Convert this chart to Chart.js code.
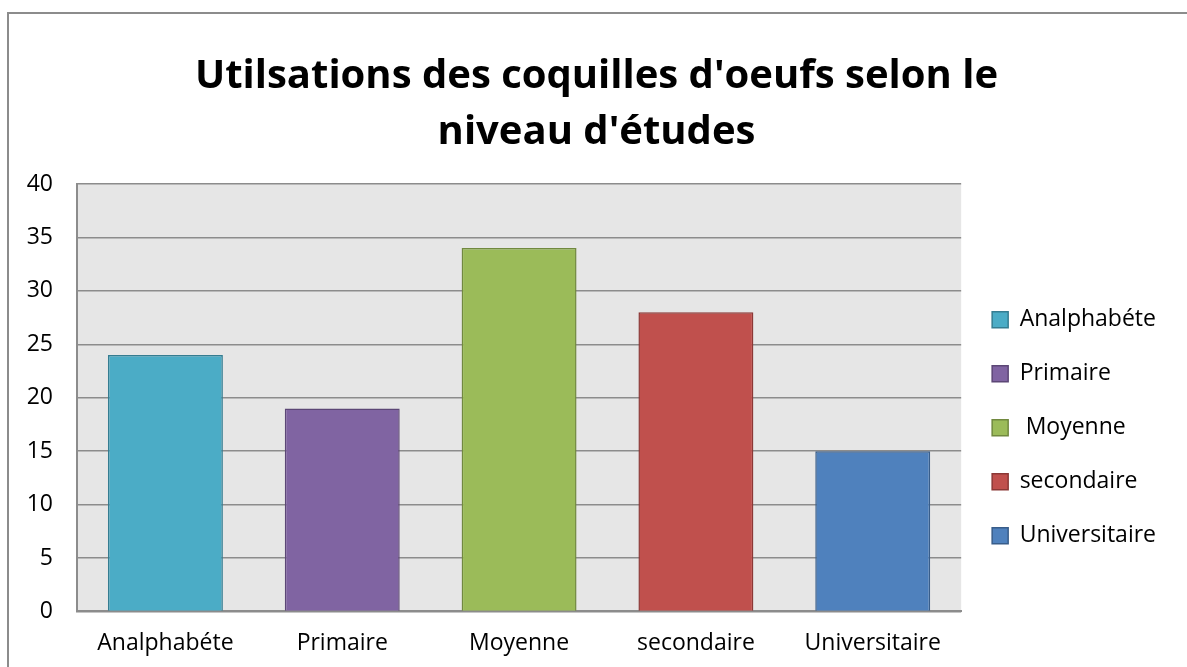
<!DOCTYPE html>
<html>
<head>
<meta charset="utf-8">
<script src="https://cdn.jsdelivr.net/npm/chart.js@4.4.1/dist/chart.umd.min.js"></script>
<style>
  html, body { margin: 0; padding: 0; background: #fff; }
  #wrap { position: relative; width: 1187px; height: 667px; }
</style>
</head>
<body>
<div id="wrap"><canvas id="eggChart"></canvas></div>
<script>
const categories = ['Analphabéte', 'Primaire', 'Moyenne', 'secondaire', 'Universitaire'];
const legendNames = ['Analphabéte', 'Primaire', ' Moyenne', 'secondaire', 'Universitaire'];
const values = [24, 19, 34, 28, 15];
const yTicks = [0, 5, 10, 15, 20, 25, 30, 35, 40];

const fills = ['#4BACC6', '#8064A2', '#9BBB59', '#C0504D', '#4F81BD'];
const edges = ['#357D91', '#5C4776', '#71893F', '#8C3836', '#385D8A'];

const FONT = '"Open Sans", "Noto Sans", sans-serif';

// grey plot background + the outer chart frame
const frame = {
    id: 'frame',
    beforeDraw(chart) {
        const c = chart.ctx;
        const a = chart.chartArea;
        c.save();
        c.fillStyle = '#E6E6E6';
        c.fillRect(a.left, a.top, a.right - a.left, a.bottom - a.top);
        c.strokeStyle = '#8C8C8C';
        c.lineWidth = 2;
        c.beginPath();
        c.moveTo(8, chart.height);
        c.lineTo(8, 13);
        c.lineTo(chart.width, 13);
        c.stroke();
        c.restore();
    }
};

const ctx = document.getElementById('eggChart');

if (ctx) {
    new Chart(ctx, {
        type: 'bar',
        data: {
            labels: categories,
            datasets: [{
                label: 'Utilisations',
                data: values,
                backgroundColor: fills,
                borderColor: edges,
                borderWidth: 1.5,
                barPercentage: 0.65,
                categoryPercentage: 1
            }]
        },
        options: {
            responsive: true,
            maintainAspectRatio: false,
            animation: false,
            layout: {
                padding: { top: 20, left: 27, right: 21, bottom: 0 }
            },
            scales: {
                x: {
                    grid: { display: false },
                    border: { display: true, color: '#8C8C8C', width: 2 },
                    ticks: { color: '#000', font: { family: FONT, size: 23 }, padding: 10 }
                },
                y: {
                    min: 0,
                    max: 40,
                    afterBuildTicks(axis) {
                        axis.ticks = yTicks.map(v => ({ value: v }));
                    },
                    afterFit(axis) {
                        axis.width = 50;
                    },
                    grid: { color: '#8C8C8C', lineWidth: 1.5, drawTicks: false },
                    border: { display: true, color: '#8C8C8C', width: 2 },
                    ticks: { color: '#000', font: { family: FONT, size: 23 }, padding: 24 }
                }
            },
            plugins: {
                title: {
                    display: true,
                    text: ["Utilsations des coquilles d'oeufs selon le", "niveau d'études"],
                    color: '#000',
                    font: { family: FONT, size: 40, weight: 'bold', lineHeight: 1.4 },
                    padding: { top: 29, bottom: 23 }
                },
                legend: {
                    position: 'right',
                    // empty title only pushes the items down to the Excel position
                    title: {
                        display: true,
                        text: ' ',
                        font: { size: 12 },
                        padding: { top: 154, bottom: 0 }
                    },
                    labels: {
                        color: '#000',
                        font: { family: FONT, size: 23 },
                        boxWidth: 16,
                        boxHeight: 16,
                        padding: 31,
                        generateLabels() {
                            return legendNames.map((name, i) => ({
                                text: name,
                                fillStyle: fills[i],
                                strokeStyle: edges[i],
                                fontColor: '#000',
                                lineWidth: 1.5,
                                index: i
                            }));
                        }
                    }
                },
                tooltip: { enabled: false }
            }
        },
        plugins: [frame]
    });
}
</script>
</body>
</html>
